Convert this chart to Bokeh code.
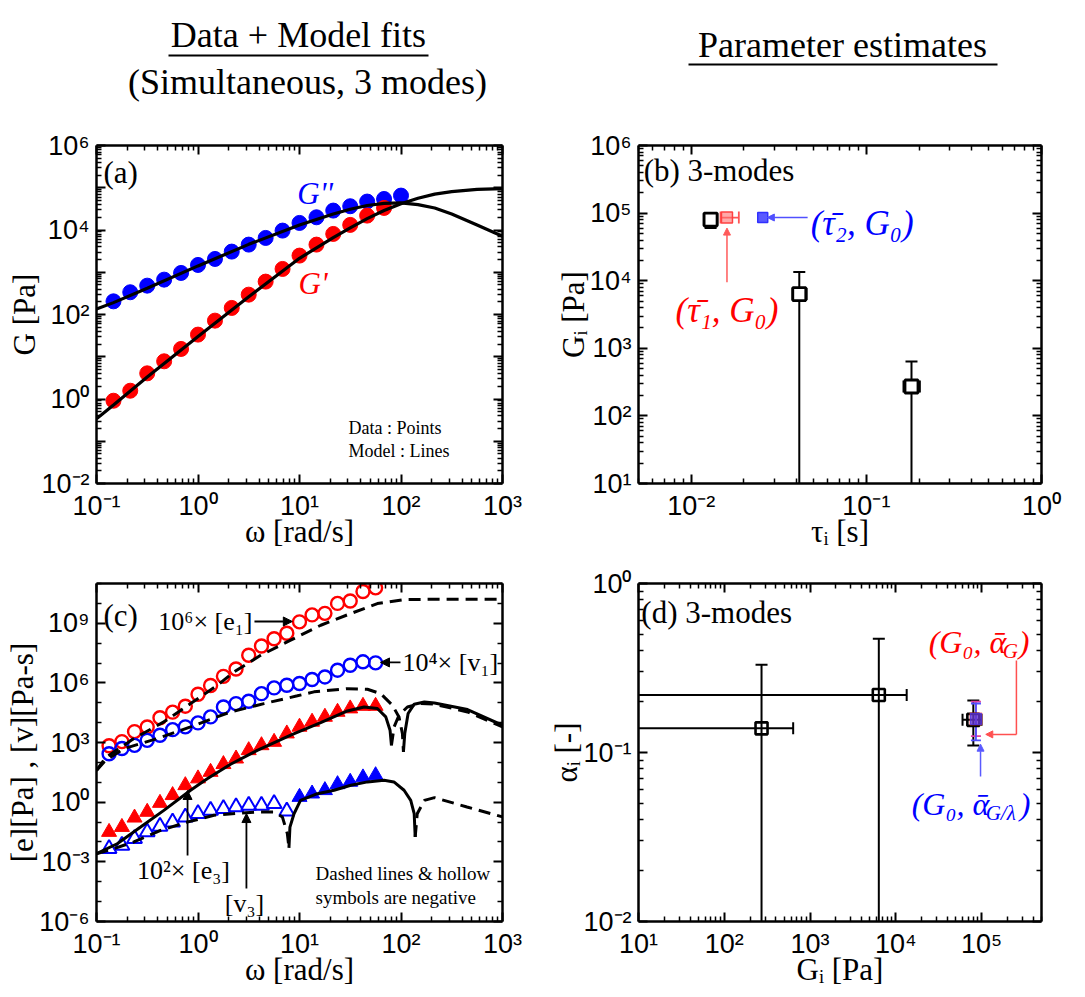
from bokeh.plotting import figure
from bokeh.layouts import column, row
from bokeh.models import (LogAxis, FixedTicker, Label, Arrow, NormalHead, Whisker, TeeHead,
                          ColumnDataSource, Range1d, CustomJSTickFormatter)
from bokeh.embed import file_html
from bokeh.resources import INLINE

# ---------------------------------------------------------------- data
# (a) SAOS data and model
omega_a = [0.147, 0.215, 0.316, 0.464, 0.681, 1.0, 1.47, 2.15, 3.16, 4.64, 6.81, 10.0,
           14.7, 21.5, 31.6, 46.4, 68.1, 100.0]
Gpp_data = [205, 336, 482, 669, 963, 1489, 2065, 3080, 4510, 6490, 9680, 14700, 20000,
            28800, 36500, 47100, 54300, 65200]
omega_a_gp = [0.147, 0.215, 0.316, 0.464, 0.681, 1.0, 1.47, 2.15, 3.16, 4.64, 6.81, 10.0,
              14.7, 21.5, 31.6, 46.4, 68.1]
Gp_data = [0.91, 1.57, 4.05, 7.8, 15.3, 33.4, 71.6, 143, 295, 600, 1197, 2477, 4510, 8070,
           13200, 21900, 33300]
omega_model_a = [0.1, 0.147, 0.316, 1.0, 3.16, 10.0, 21.5, 31.6, 46.4, 68.1, 100.0, 147, 215,
                 316, 562, 1000]
Gp_model = [0.339, 0.724, 3.31, 30.2, 263, 2140, 6610, 11220, 18620, 28840, 41690, 56230,
            70790, 81280, 91200, 95500]
Gpp_model = [135, 191, 417, 1413, 4571, 13180, 23990, 30900, 38020, 42660, 43650, 39810,
             33110, 23990, 13180, 7080]

# (b)/(d) parameter estimates (3 modes)
tau_i = [0.0129, 0.0414, 0.181]
tau_lo = [0.0118, 0.0379, 0.163]
tau_hi = [0.0141, 0.0456, 0.202]
G_i = [80200, 6340, 272]
G_lo = [60000, None, None]          # None: lower bound below the axis
G_hi = [100000, 13400, 636]
alpha_i = [0.156, 0.219, 0.139]
alpha_lo = [0.110, None, None]
alpha_hi = [0.203, 0.471, 0.330]
tau1_bar, tau1_lo, tau1_hi = 0.0160, 0.0147, 0.0187
tau2_bar = 0.0256
G0 = 86000
alphaG_bar, alphaG_lo, alphaG_hi = 0.158, 0.125, 0.200
alphaGl_bar, alphaGl_lo, alphaGl_hi = 0.158, 0.118, 0.195

# (c) MAOS data (plotted magnitudes)
omega_c = [0.133, 0.178, 0.237, 0.316, 0.422, 0.562, 0.750, 1.00, 1.33, 1.78, 2.37, 3.16,
           4.22, 5.62, 7.50, 10.0, 13.3, 17.8, 23.7, 31.6, 42.2, 56.2]
e1_x1e6 = [692, 1120, 3550, 6030, 17800, 33900, 67600, 2.69e5, 7.41e5, 2.14e6, 5.01e6,
           2.45e7, 7.24e7, 1.66e8, 3.16e8, 1.18e9, 2.63e9, 3.16e9, 1.00e10, 1.32e10,
           3.98e10, 6.03e10]
v1_x1e4 = [275, 501, 724, 1290, 2340, 4470, 6170, 9770, 19500, 61700, 91200, 1.20e5,
           2.88e5, 5.62e5, 7.59e5, 9.33e5, 1.48e6, 2.00e6, 4.37e6, 7.76e6, 1.15e7, 1.02e7]
e3_x1e2 = [0.0316, 0.0562, 0.166, 0.324, 0.912, 2.24, 7.08, 15.5, 33.1, 81.3, 155, 407,
           724, 1070, 2820, 6170, 1.10e4, 1.95e4, 3.47e4, 5.13e4, 6.92e4, 6.92e4]
v3_abs = [0.00457, 0.00676, 0.0145, 0.0316, 0.0603, 0.100, 0.178, 0.263, 0.389, 0.468,
          0.575, 0.692, 0.692, 0.851, 0.355, 1.82, 2.69, 3.98, 7.94, 10.5, 17.4, 22.4]
v3_sign = [-1, -1, -1, -1, -1, -1, -1, -1, -1, -1, -1, -1, -1, -1, -1,
           1, 1, 1, 1, 1, 1, 1]

# (c) model curves (magnitudes; dashed = negative, solid = positive)
e1_model_w = [0.1, 0.123, 0.233, 0.461, 0.845, 1.55, 2.26, 4.14, 8.18, 16.2, 32.0, 58.5,
              107, 214, 1000]
e1_model = [39.8, 174, 1580, 1.10e4, 9.12e4, 7.59e5, 3.55e6, 2.45e7, 1.41e8, 7.94e8,
            3.09e9, 9.77e9, 1.55e10, 1.62e10, 1.62e10]
v1_model_neg_w = [0.1, 0.123, 0.186, 0.396, 0.845, 2.09, 4.47, 9.53, 13.9, 29.6, 46.7,
                  63.1, 82.2, 95.5, 103.3, 105.7]
v1_model_neg = [39.8, 129, 490, 1580, 6170, 3.47e4, 9.12e4, 2.24e5, 3.55e5, 5.13e5,
                4.79e5, 2.88e5, 7.59e4, 1.95e4, 2820, 339]
v1_model_pos_w = [105.7, 108.9, 117.5, 134.9, 169.8, 213.8, 451.9, 1000]
v1_model_pos = [339, 2820, 2.88e4, 8.51e4, 1.10e5, 9.77e4, 4.57e4, 7410]
e3_model_pos_w = [0.1, 0.16, 0.272, 0.461, 0.845, 1.233, 2.094, 3.837, 8.185, 16.18,
                  29.65, 43.25, 58.5, 70.8, 78.0, 80.5]
e3_model_pos = [0.00257, 0.00813, 0.0562, 0.389, 3.98, 15.1, 81.3, 407, 2340, 1.0e4,
                3.89e4, 6.17e4, 5.13e4, 1.95e4, 4170, 724]
e3_model_neg_w = [80.5, 85.5, 95.5, 115.6, 156.7, 213.8, 451.9, 1000]
e3_model_neg = [724, 6170, 2.34e4, 6.17e4, 9.12e4, 8.51e4, 3.47e4, 6170]
v3_model_neg_w = [0.1, 0.1374, 0.2333, 0.4276, 0.7834, 1.436, 2.63, 4.14, 5.61, 6.78,
                  7.59, 7.87]
v3_model_neg = [0.00257, 0.00407, 0.0100, 0.0380, 0.100, 0.219, 0.288, 0.324, 0.324,
                0.182, 0.0263, 0.00501]
v3_model_pos_w = [7.87, 8.05, 8.83, 10.23, 15.0, 21.9, 32.0, 46.8, 68.1, 85.1, 107.2,
                  124.7, 134.9, 138.0]
v3_model_pos = [0.00501, 0.0562, 0.263, 1.23, 2.69, 3.98, 7.08, 10.5, 12.6, 10.5, 3.98,
                1.23, 0.263, 0.0178]
v3_model_neg2_w = [138.0, 144.5, 169.8, 213.8, 446.7, 1000]
v3_model_neg2 = [0.0178, 0.263, 1.23, 1.70, 0.575, 0.182]

# tick exponents
a_x_major = [-1, 0, 1, 2, 3]
a_y_major = [-2, -1, 0, 1, 2, 3, 4, 5, 6]
a_y_labels = [-2, 0, 2, 4, 6]
b_x_major = [-2, -1, 0]
b_y_major = [1, 2, 3, 4, 5, 6]
c_y_labels = [-6, -3, 0, 3, 6, 9]
c_y_minor = [-5, -4, -2, -1, 1, 2, 4, 5, 7, 8, 10, 11]
d_x_major = [1, 2, 3, 4, 5]
d_y_major = [-2, -1, 0]

# ---------------------------------------------------------------- style
SERIF = "Liberation Serif"
SANS = "Liberation Sans"
RED = "#ff0000"
BLUE = "#0000ff"

SUPJS = """
const e = Math.round(Math.log10(tick));
if (!show.includes(e)) { return ""; }
const m = {"-": "\u207b", "0": "\u2070", "1": "\u00b9", "2": "\u00b2", "3": "\u00b3",
           "4": "\u2074", "5": "\u2075", "6": "\u2076", "7": "\u2077", "8": "\u2078", "9": "\u2079"};
return "10" + String(e).split("").map(c => m[c]).join("");
"""
BLANKJS = "return '';"


def decades(exps):
    return [10.0 ** e for e in exps]


def minors(lo, hi):
    out = []
    for e in range(lo, hi + 1):
        for m in range(2, 10):
            out.append(m * 10.0 ** e)
    return out


def log_fig(fw, fh, bl, br, bt, bb, xr, yr):
    p = figure(frame_width=fw, frame_height=fh, x_axis_type="log", y_axis_type="log",
               x_range=Range1d(*xr), y_range=Range1d(*yr), output_backend="svg",
               toolbar_location=None, min_border_left=bl, min_border_right=br,
               min_border_top=bt, min_border_bottom=bb)
    p.xgrid.visible = False
    p.ygrid.visible = False
    p.outline_line_color = None
    p.border_fill_color = "white"
    p.background_fill_color = "white"
    return p


def setup_axes(p, xmaj, xmin, xshow, ymaj, ymin, yshow, xlabel, ylabel):
    p.add_layout(LogAxis(), "above")
    p.add_layout(LogAxis(), "right")
    xt = FixedTicker(ticks=xmaj, minor_ticks=xmin)
    yt = FixedTicker(ticks=ymaj, minor_ticks=ymin)
    for ax in p.below + p.above:
        ax.ticker = xt
    for ax in p.left + p.right:
        ax.ticker = yt
    for ax in p.below + p.above + p.left + p.right:
        ax.axis_line_width = 2.5
        ax.axis_line_color = "black"
        ax.major_tick_in = 9
        ax.major_tick_out = 0
        ax.minor_tick_in = 5
        ax.minor_tick_out = 0
        ax.major_tick_line_width = 2
        ax.minor_tick_line_width = 1.5
        ax.major_tick_line_color = "black"
        ax.minor_tick_line_color = "black"
    for ax in p.above + p.right:
        ax.formatter = CustomJSTickFormatter(code=BLANKJS)
        ax.major_label_text_font_size = "2px"
        ax.major_label_standoff = 0
    bx, ly = p.below[0], p.left[0]
    bx.formatter = CustomJSTickFormatter(args=dict(show=xshow), code=SUPJS)
    ly.formatter = CustomJSTickFormatter(args=dict(show=yshow), code=SUPJS)
    for ax in (bx, ly):
        ax.major_label_text_font = SANS
        ax.major_label_text_font_size = "27px"
        ax.major_label_text_color = "black"
        ax.major_label_standoff = 7
        ax.axis_label_text_font = SERIF
        ax.axis_label_text_font_size = "31px"
        ax.axis_label_text_font_style = "normal"
        ax.axis_label_text_color = "black"
    bx.axis_label_standoff = -10
    ly.axis_label_standoff = -4
    ly.major_label_orientation = "horizontal"
    bx.axis_label = xlabel
    ly.axis_label = ylabel


def label(p, x, y, text, size="30px", color="black", style="normal", align="left",
          baseline="middle", font=SERIF, xoff=0, yoff=0):
    p.add_layout(Label(x=x, y=y, text=text, text_font=font, text_font_size=size,
                       text_color=color, text_font_style=style, text_align=align,
                       text_baseline=baseline, x_offset=xoff, y_offset=yoff))


def whiskers(p, base, lo, hi, floor, dim, color, lw=2, cap=12):
    both = [(b, l, h) for b, l, h in zip(base, lo, hi) if l is not None]
    one = [(b, floor, h) for b, l, h in zip(base, lo, hi) if l is None]
    for group, lower_cap in ((both, True), (one, False)):
        if not group:
            continue
        src = ColumnDataSource(dict(b=[g[0] for g in group], l=[g[1] for g in group],
                                    u=[g[2] for g in group]))
        w = Whisker(source=src, base="b", lower="l", upper="u", dimension=dim,
                    line_color=color, line_width=lw,
                    upper_head=TeeHead(size=cap, line_color=color, line_width=lw),
                    lower_head=TeeHead(size=cap, line_color=color, line_width=lw) if lower_cap else None,
                    level="underlay")
        p.add_layout(w)


def arrow(p, x0, y0, x1, y1, color="black", lw=1.8, size=9):
    p.add_layout(Arrow(x_start=x0, y_start=y0, x_end=x1, y_end=y1, line_color=color,
                       line_width=lw, end=NormalHead(size=size, fill_color=color,
                                                     line_color=color)))


# ---------------------------------------------------------------- title strip
pt = figure(width=1085, height=110, x_range=Range1d(0, 1085), y_range=Range1d(0, 110),
            output_backend="svg", toolbar_location=None, x_axis_location=None,
            y_axis_location=None, min_border=0)
pt.xgrid.visible = False
pt.ygrid.visible = False
pt.outline_line_color = None
label(pt, 298, 76, "Data + Model fits", size="36px", align="center")
label(pt, 307, 29, "(Simultaneous, 3 modes)", size="36px", align="center")
label(pt, 842, 66, "Parameter estimates", size="36px", align="center")
pt.segment(x0=[168, 688], y0=[55, 46], x1=[428, 997], y1=[55, 46], line_width=2.2,
           line_color="black")

# ---------------------------------------------------------------- (a)
pa = log_fig(406, 338, 96, 38, 35, 77, (0.1, 1000), (0.01, 1e6))
setup_axes(pa, decades(a_x_major), minors(-1, 2), a_x_major,
           decades(a_y_major), minors(-2, 5), a_y_labels, "ω [rad/s]", "G [Pa]")
pa.scatter(omega_a, Gpp_data, marker="circle", size=15, color=BLUE)
pa.scatter(omega_a_gp, Gp_data, marker="circle", size=15, color=RED)
pa.line(omega_model_a, Gp_model, line_color="black", line_width=3.2)
pa.line(omega_model_a, Gpp_model, line_color="black", line_width=3.2)
label(pa, 0.117, 2.3e5, "(a)", size="31px")
label(pa, 9.5, 7.3e4, "G''", size="31px", color=BLUE, style="italic")
label(pa, 9.8, 540, "G'", size="31px", color=RED, style="italic")
label(pa, 30.4, 0.211, "Data : Points", size="18px")
label(pa, 30.4, 0.0604, "Model : Lines", size="18px")

# ---------------------------------------------------------------- (b)
pb = log_fig(403, 338, 98, 44, 35, 77, (0.005, 1.0), (10, 1e6))
setup_axes(pb, decades(b_x_major), minors(-3, -1), b_x_major,
           decades(b_y_major), minors(1, 5), b_y_major, "τᵢ [s]", "Gᵢ [Pa]")
whiskers(pb, tau_i, G_lo, G_hi, 10, "height", "black")
whiskers(pb, G_i, tau_lo, tau_hi, 0.005, "width", "black")
whiskers(pb, [G0], [tau1_lo], [tau1_hi], 0.005, "width", "#ff5555", lw=1.8)
pb.scatter(tau_i, G_i, marker="square", size=13, line_color="black", line_width=2.8,
           fill_color="white")
pb.scatter([tau1_bar], [G0], marker="square", size=11, line_color="#ff4040", line_width=1.5,
           fill_color="#ff7070", fill_alpha=0.6)
pb.scatter([tau2_bar], [G0], marker="square", size=10, line_color="#3030ff", line_width=1.5,
           fill_color="#3030ff", fill_alpha=0.8)
arrow(pb, 0.0462, G0, 0.0272, G0, color="#5050ff", lw=1.5, size=7)
arrow(pb, tau1_bar, 9500, tau1_bar, 6.0e4, color="#ff5a5a", lw=1.5, size=7)
label(pb, 0.00535, 4.28e5, "(b) 3-modes", size="31px")
label(pb, 0.0481, 7.08e4, "(τ̄₂, G₀)", size="35px", color=BLUE, style="italic")
label(pb, 0.00813, 3680, "(τ̄₁, G₀)", size="35px", color=RED, style="italic")

# ---------------------------------------------------------------- (c)
pc = log_fig(406, 338, 96, 38, 23, 76, (0.1, 1000), (1e-6, 1e11))
setup_axes(pc, decades(a_x_major), minors(-1, 2), a_x_major,
           decades(c_y_labels), decades(c_y_minor), c_y_labels, "ω [rad/s]",
           "[e][Pa] , [v][Pa-s]")
pc.scatter(omega_c, e1_x1e6, marker="circle", size=13, line_color=RED, line_width=2.4,
           fill_color=None)
pc.scatter(omega_c, v1_x1e4, marker="circle", size=13, line_color=BLUE, line_width=2.4,
           fill_color=None)
pc.scatter(omega_c, e3_x1e2, marker="triangle", size=15, color=RED)
v3_neg_w = [w for w, s in zip(omega_c, v3_sign) if s < 0]
v3_neg_v = [v for v, s in zip(v3_abs, v3_sign) if s < 0]
v3_pos_w = [w for w, s in zip(omega_c, v3_sign) if s > 0]
v3_pos_v = [v for v, s in zip(v3_abs, v3_sign) if s > 0]
pc.scatter(v3_neg_w, v3_neg_v, marker="triangle", size=15, line_color=BLUE, line_width=2,
           fill_color=None)
pc.scatter(v3_pos_w, v3_pos_v, marker="triangle", size=15, color=BLUE)
DASH = "12 7"
pc.line(e1_model_w, e1_model, line_color="black", line_width=3, line_dash=DASH)
pc.line(v1_model_neg_w, v1_model_neg, line_color="black", line_width=3, line_dash=DASH)
pc.line(v1_model_pos_w, v1_model_pos, line_color="black", line_width=3)
pc.line(e3_model_pos_w, e3_model_pos, line_color="black", line_width=3)
pc.line(e3_model_neg_w, e3_model_neg, line_color="black", line_width=3, line_dash=DASH)
pc.line(v3_model_neg_w, v3_model_neg, line_color="black", line_width=3, line_dash=DASH)
pc.line(v3_model_pos_w, v3_model_pos, line_color="black", line_width=3)
pc.line(v3_model_neg2_w, v3_model_neg2, line_color="black", line_width=3, line_dash=DASH)
label(pc, 0.117, 2.45e9, "(c)", size="31px")
label(pc, 3.44, 1.23e9, "10⁶× [e₁]", size="26px", align="right")
arrow(pc, 3.6, 1.23e9, 8.5, 1.23e9)
label(pc, 103.5, 1.07e7, "10⁴× [v₁]", size="26px")
arrow(pc, 98.9, 1.07e7, 62.8, 1.07e7)
label(pc, 0.719, 3.6e-4, "10²× [e₃]", size="26px", align="center")
arrow(pc, 0.789, 2.09e-3, 0.789, 3.89)
label(pc, 2.87, 7.9e-6, "[v₃]", size="26px", align="center")
arrow(pc, 3.0, 4.6e-5, 3.0, 0.269)
label(pc, 14.4, 2.57e-4, "Dashed lines & hollow", size="19px")
label(pc, 14.4, 1.62e-5, "symbols are negative", size="19px")

# ---------------------------------------------------------------- (d)
pd_ = log_fig(403, 338, 98, 44, 23, 76, (10, 5e5), (0.01, 1.0))
setup_axes(pd_, decades(d_x_major), minors(1, 5), d_x_major,
           decades(d_y_major), minors(-2, -1), d_y_major, "Gᵢ [Pa]", "αᵢ [-]")
whiskers(pd_, G_i, alpha_lo, alpha_hi, 0.01, "height", "black")
whiskers(pd_, alpha_i, G_lo, G_hi, 10, "width", "black")
whiskers(pd_, [G0], [alphaG_lo], [alphaG_hi], 0.01, "height", "#e040a0", lw=1.8, cap=10)
whiskers(pd_, [G0], [alphaGl_lo], [alphaGl_hi], 0.01, "height", "#5050ff", lw=1.8, cap=10)
pd_.scatter(G_i, alpha_i, marker="square", size=12, line_color="black", line_width=2.6,
            fill_color=None)
pd_.scatter([G0], [alphaG_bar], marker="square", size=12, line_color="#ff4040",
            fill_color="#ff4040", fill_alpha=0.5, line_alpha=0.6)
pd_.scatter([G0], [alphaGl_bar], marker="square", size=11, line_color="#3030ff",
            fill_color="#3030ff", fill_alpha=0.6, line_alpha=0.7)
pd_.line([2.55e5, 2.55e5], [0.35, 0.128], line_color="#ff5050", line_width=1.5)
arrow(pd_, 2.55e5, 0.128, 1.12e5, 0.128, color="#ff5050", lw=1.5, size=7)
arrow(pd_, 97300, 0.0721, 97300, 0.112, color="#5a5aff", lw=1.5, size=7)
label(pd_, 10.8, 0.673, "(d) 3-modes", size="31px")
label(pd_, 24200, 0.448, "(G₀, ᾱ", size="32px", color=RED, style="italic")
label(pd_, 24200, 0.448, "G", size="21px", color=RED, style="italic", xoff=74, yoff=-9)
label(pd_, 24200, 0.448, ")", size="32px", color=RED, style="italic", xoff=90)
label(pd_, 15300, 0.0499, "(G₀, ᾱ", size="32px", color=BLUE, style="italic")
label(pd_, 15300, 0.0499, "G/λ", size="21px", color=BLUE, style="italic", xoff=74, yoff=-9)
label(pd_, 15300, 0.0499, ")", size="32px", color=BLUE, style="italic", xoff=108)

layout = column(pt, row(pa, pb, spacing=0), row(pc, pd_, spacing=0), spacing=0)
open("out.html", "w").write(file_html(layout, INLINE))
